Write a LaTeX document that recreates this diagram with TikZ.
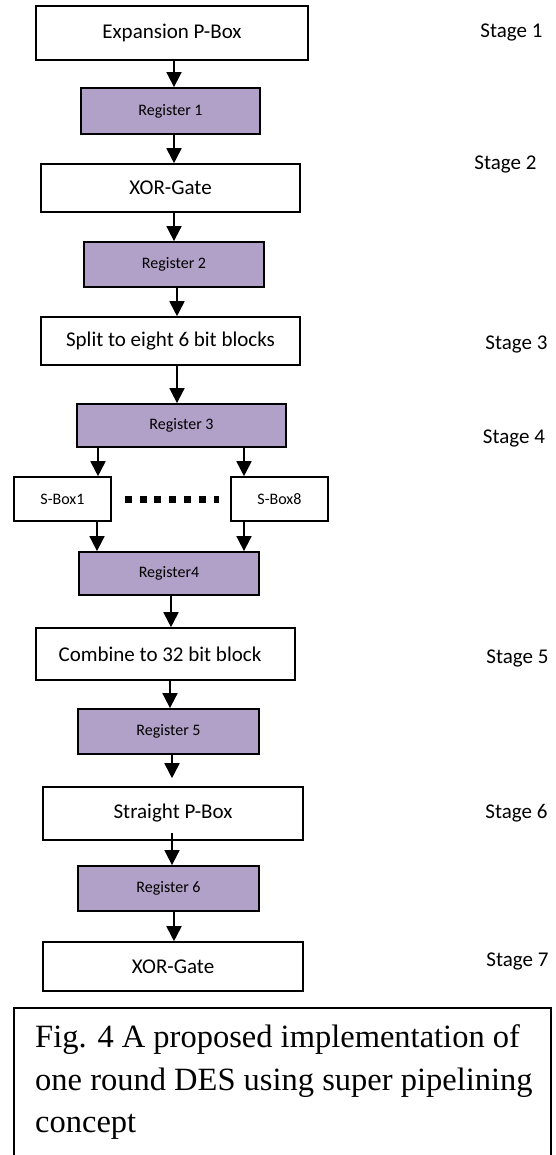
\documentclass[tikz,border=0pt]{standalone}
\usepackage{fontspec}
\setmainfont{Carlito}
\newfontfamily\capfont{Liberation Serif}
\usetikzlibrary{arrows.meta}
\definecolor{regfill}{HTML}{B1A0C7}
\begin{document}
\begin{tikzpicture}[x=1pt,y=-1pt,
  blockbox/.style={draw=black, line width=1.6pt, fill=white, inner sep=0pt,
    font=\fontsize{21}{25}\selectfont},
  regbox/.style={draw=black, line width=1.8pt, fill=regfill, inner sep=0pt,
    font=\fontsize{16}{19}\selectfont},
  sboxnode/.style={blockbox, font=\fontsize{16}{19}\selectfont},
  stagelbl/.style={anchor=base, inner sep=0pt, font=\fontsize{21}{25}\selectfont},
  flow/.style={line width=1.8pt, -{Triangle[length=15pt,width=15pt]}},
]
\useasboundingbox (0,0) rectangle (556,1155);
\clip (0,0) rectangle (556,1155);
\fill[white] (0,0) rectangle (556,1155);

% pipeline blocks
\node[blockbox, minimum width=272pt, minimum height=54pt] (epbox) at (172,33) {Expansion P-Box};
\node[regbox, minimum width=179pt, minimum height=46pt] (reg1) at (170.5,111) {Register 1};
\node[blockbox, minimum width=259pt, minimum height=48pt] (xor1) at (170.5,188) {XOR-Gate};
\node[regbox, minimum width=180pt, minimum height=45pt] (reg2) at (174,264.5) {Register 2};
\node[blockbox, minimum width=259pt, minimum height=48pt] (split) at (170.5,341) {Split to eight 6 bit blocks};
\node[regbox, minimum width=209pt, minimum height=43pt] (reg3) at (181.5,425.5) {Register 3};
\node[sboxnode, minimum width=97pt, minimum height=44pt] (sb1) at (62.5,499) {S-Box1};
\node[sboxnode, minimum width=97pt, minimum height=44pt] (sb8) at (279.5,499) {S-Box8};
\node[regbox, minimum width=180pt, minimum height=43pt] (reg4) at (169,573.5) {Register4};
\node[blockbox, minimum width=259pt, minimum height=52pt] (comb) at (165.5,654) {Combine to 32 bit block\hspace*{11pt}};
\node[regbox, minimum width=181pt, minimum height=45pt] (reg5) at (168.5,731.5) {Register 5};
\node[blockbox, minimum width=260pt, minimum height=53pt] (spbox) at (173,813.5) {Straight P-Box};
\node[regbox, minimum width=181pt, minimum height=45pt] (reg6) at (168.5,888.5) {Register 6};
\node[blockbox, minimum width=260pt, minimum height=49pt] (xor2) at (173,966.5) {XOR-Gate};

% columns of the connectors
\coordinate (a1) at (174,0);
\coordinate (a2) at (174,0);
\coordinate (a3) at (174,0);
\coordinate (a4) at (177,0);
\coordinate (a5) at (177,0);
\coordinate (aL) at (98,0);
\coordinate (aR) at (244,0);
\coordinate (bL) at (97,0);
\coordinate (a6) at (171,0);
\coordinate (a7) at (170,0);
\coordinate (a8) at (172,0);
\coordinate (a9) at (172,0);
\coordinate (a10) at (174,0);

\draw[flow] (epbox.south -| a1) -- (reg1.north -| a1);
\draw[flow] (reg1.south -| a2) -- (xor1.north -| a2);
\draw[flow] (xor1.south -| a3) -- (reg2.north -| a3);
\draw[flow] (reg2.south -| a4) -- (split.north -| a4);
\draw[flow] (split.south -| a5) -- (reg3.north -| a5);
\draw[flow] (reg3.south -| aL) -- (sb1.north -| aL);
\draw[flow] (reg3.south -| aR) -- (sb8.north -| aR);
\draw[flow] (sb1.south -| bL) -- (reg4.north -| bL);
\draw[flow] (sb8.south -| aR) -- (reg4.north -| aR);
\draw[flow] (reg4.south -| a6) -- (comb.north -| a6);
\draw[flow] (comb.south -| a7) -- (reg5.north -| a7);
\draw[flow] (reg5.south -| a8) -- ([yshift=8pt]spbox.north -| a8);
\draw[flow] ([yshift=8pt]spbox.south -| a9) -- (reg6.north -| a9);
\draw[flow] (reg6.south -| a10) -- (xor2.north -| a10);

% the S-boxes in between
\draw[line width=7pt, dash pattern=on 7pt off 7.83pt] ([xshift=13pt]sb1.east) -- ([xshift=-11pt]sb8.west);

% stage labels
\node[stagelbl] (st1) at (511.5,37.5) {Stage 1};
\node[stagelbl] (st2) at (505.5,170) {Stage 2};
\node[stagelbl] (st3) at (516.5,349) {Stage 3};
\node[stagelbl] (st4) at (514,443) {Stage 4};
\node[stagelbl] (st5) at (517.5,663) {Stage 5};
\node[stagelbl] (st6) at (516.5,818) {Stage 6};
\node[stagelbl] (st7) at (517.5,966) {Stage 7};

% caption frame
\draw[line width=1.5pt] (14,1008) rectangle (551,1180);
\node[anchor=north west, inner sep=0pt, align=left,
  font=\capfont\fontsize{32.5}{42.5}\selectfont] (cap) at (35,1024.5)
  {Fig. 4 A proposed implementation of\\one round DES using super pipelining\\concept};
\end{tikzpicture}
\end{document}
